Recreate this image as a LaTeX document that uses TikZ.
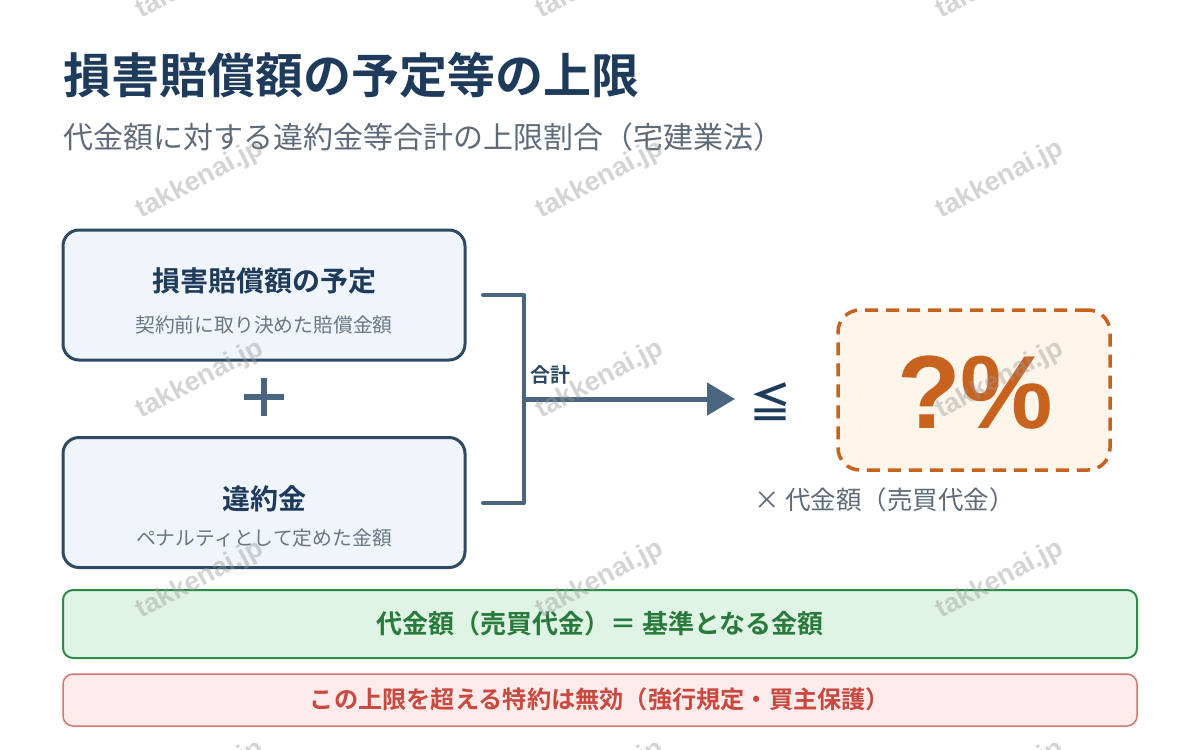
\documentclass[tikz,border=0pt]{standalone}
\usepackage{fontspec}
\setmainfont{Noto Sans CJK JP}[BoldFont={Noto Sans CJK JP Bold}]
\newfontfamily\lsans{Liberation Sans}
\usetikzlibrary{arrows.meta,calc}
\definecolor{navy}{HTML}{1F3B5C}
\definecolor{boxline}{HTML}{2E4A62}
\definecolor{boxfill}{HTML}{EFF5FA}
\definecolor{subgrey}{HTML}{5F6B78}
\definecolor{smallgrey}{HTML}{6B7783}
\definecolor{brk}{HTML}{4A6580}
\definecolor{orng}{HTML}{C8621F}
\definecolor{orngfill}{HTML}{FDF5EA}
\definecolor{grnline}{HTML}{2E8B4A}
\definecolor{grnfill}{HTML}{DFF4E4}
\definecolor{grntext}{HTML}{2B7A3D}
\definecolor{redline}{HTML}{D9756F}
\definecolor{redfill}{HTML}{FCEBEA}
\definecolor{redtext}{HTML}{C9483F}
\definecolor{wmgrey}{HTML}{9A9A9A}
\tikzset{
  mainbox/.style={draw=boxline, line width=3pt, fill=boxfill, rounded corners=16pt,
    minimum width=402pt, minimum height=130pt, inner sep=0pt},
  boxtitle/.style={font=\bfseries\fontsize{28}{32}\selectfont, text=navy, inner sep=0pt},
  boxsub/.style={font=\fontsize{19.8}{22}\selectfont, text=smallgrey, inner sep=0pt},
  bracketline/.style={draw=brk, line width=4pt, line cap=round, line join=round},
  sumarrow/.style={draw=brk, line width=5pt, -{Triangle[length=28pt,width=32pt]}},
  plusline/.style={draw=brk, line width=6.5pt},
  dashbox/.style={draw=orng, line width=3.5pt, fill=orngfill, rounded corners=22pt,
    dash pattern=on 13pt off 8pt, minimum width=272pt, minimum height=160pt, inner sep=0pt},
  infobox/.style={line width=2pt, rounded corners=10pt, minimum width=1074pt, inner sep=0pt},
  wm/.style={font=\lsans\bfseries\fontsize{27}{29}\selectfont, text=wmgrey, text opacity=0.42, rotate=28, inner sep=0pt}
}
\begin{document}
\begin{tikzpicture}[x=1pt,y=-1pt]
\useasboundingbox[fill=white] (0,0) rectangle (1200,750);

% title
\node[anchor=west, inner sep=0pt, text=navy, font=\bfseries\fontsize{48}{52}\selectfont] (title) at (63,75) {損害賠償額の予定等の上限};
\node[anchor=west, inner sep=0pt, text=subgrey, font=\fontsize{30}{34}\selectfont] (subtitle) at (63,137) {代金額に対する違約金等合計の上限割合（宅建業法）};

% boxes
\node[mainbox] (b1) at (264,295) {};
\node[boxtitle] (b1t) at (264,281) {損害賠償額の予定};
\node[boxsub] (b1s) at (264,325) {契約前に取り決めた賠償金額};

\node[mainbox] (b2) at (264,502.5) {};
\node[boxtitle] (b2t) at (264,499) {違約金};
\node[boxsub] (b2s) at (264,538) {ペナルティとして定めた金額};

% plus
\coordinate (plus) at (264,397);
\draw[plusline] ($(plus)+(-20,0)$) -- ($(plus)+(20,0)$);
\draw[plusline] ($(plus)+(0,-19)$) -- ($(plus)+(0,19)$);

% bracket and arrow
\coordinate (br1) at (483,295);
\coordinate (br2) at (524,295);
\coordinate (br3) at (524,503);
\coordinate (br4) at (483,503);
\coordinate (mid) at (524,399);
\draw[bracketline] (br1) -- (br2) -- (br3) -- (br4);
\node[anchor=west, inner sep=0pt, text=boxline, font=\bfseries\fontsize{20}{22}\selectfont] (sumlbl) at (530,375) {合計};
\node[inner sep=0pt, text=navy, font=\bfseries\fontsize{42}{46}\selectfont] (le) at (770,402) {≦};
\coordinate (tip) at (735,399);
\draw[sumarrow] (mid) -- (tip);

% percentage box
\node[dashbox] (pct) at (974,390) {};
\node[inner sep=0pt, text=orng, font=\lsans\bfseries\fontsize{104}{110}\selectfont] (pcttext) at (975,393) {?\%};
\node[anchor=west, inner sep=0pt, text=subgrey, font=\fontsize{25.5}{28}\selectfont] (times) at (754,500) {× 代金額（売買代金）};

% info boxes
\node[infobox, draw=grnline, fill=grnfill, minimum height=68pt] (green) at (600,624) {};
\node[inner sep=0pt, text=grntext, font=\bfseries\fontsize{26}{29}\selectfont] (greent) at (600,624) {代金額（売買代金）＝ 基準となる金額};
\node[infobox, draw=redline, line width=1.5pt, fill=redfill, minimum height=52pt] (red) at (600,700) {};
\node[inner sep=0pt, text=redtext, font=\bfseries\fontsize{24.2}{27}\selectfont] (redt) at (600,699) {この上限を超える特約は無効（強行規定・買主保護）};

% watermarks
\foreach \wx in {200,600,1000}{
  \foreach \wy in {-20,180,380,580,780}{
    \node[wm] (wm-\wx-\wy) at (\wx,\wy) {takkenai.jp};
  }
}
\end{tikzpicture}
\end{document}
